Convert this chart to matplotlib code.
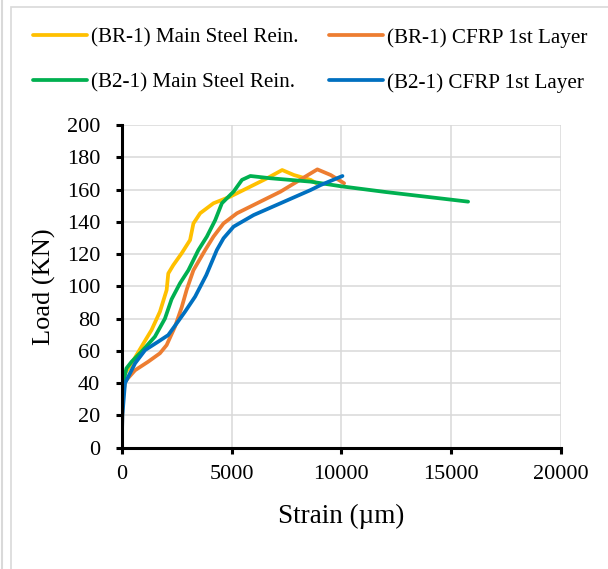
import matplotlib
matplotlib.use("Agg")
import matplotlib.pyplot as plt
from matplotlib.lines import Line2D
from matplotlib.patches import Rectangle

# Load-strain readings (strain in micro-strain, load in kN)
br1_steel_strain = [0, 20, 150, 450, 900, 1360, 1740, 2045, 2120, 2350, 2730, 3111, 3265,
                    3570, 4177, 4940, 5705, 6620, 7305, 7840, 8600, 8850]
br1_steel_load = [0, 35, 46, 52.3, 62.6, 73, 84.3, 97.7, 108, 113.2, 120.5, 128.7, 139,
                  145.3, 151.5, 155.6, 160.8, 167, 172.1, 169, 166, 164]

br1_cfrp_strain = [0, 40, 150, 608, 1205, 1738, 2045, 2425, 2730, 2960, 3265, 3800, 4177,
                   4635, 5247, 6163, 7230, 8600, 8907, 9516, 10125]
br1_cfrp_load = [0, 30, 41, 48, 53.3, 58.5, 63.6, 75, 87, 98, 110, 122.5, 130.8,
                 139, 145.3, 151.5, 158.7, 170, 172.5, 169, 163.9]

b21_steel_strain = [0, 30, 214, 450, 900, 1510, 1967, 2270, 2653, 3035, 3490, 3875, 4255,
                    4560, 5093, 5476, 5857, 6770, 8600, 10000, 12000, 15770]
b21_steel_load = [0, 38, 49.2, 53.3, 59.5, 68.8, 80, 92, 101.9, 110, 122.5, 130.8, 141,
                  151.5, 158.7, 166, 168.4, 167, 164.9, 162, 158.5, 152.5]

b21_cfrp_strain = [0, 30, 150, 608, 1065, 1660, 2117, 2500, 2882, 3340, 3850, 4330, 4635,
                   5093, 6007, 7230, 8600, 9059, 10050]
b21_cfrp_load = [0, 20, 40, 52.3, 60.5, 65.7, 69.8, 77, 84.3, 93.6, 107, 122.5, 129.8,
                 137, 144.2, 151.5, 159.7, 162.8, 168.4]

series_labels = ["(BR-1) Main Steel Rein.", "(BR-1) CFRP 1st Layer",
                 "(B2-1) Main Steel Rein.", "(B2-1) CFRP 1st Layer"]
series_colors = ["#FFC000", "#ED7D31", "#00B050", "#0070C0"]

x_ticks = [0, 5000, 10000, 15000, 20000]
y_ticks = list(range(0, 201, 20))

plt.rcParams["font.family"] = ["Liberation Serif", "DejaVu Serif"]

fig = plt.figure(figsize=(6.08, 5.69), dpi=100)
ax = fig.add_axes([0.2002, 0.2132, 0.7225, 0.5671])

data = [(br1_steel_strain, br1_steel_load), (br1_cfrp_strain, br1_cfrp_load),
        (b21_steel_strain, b21_steel_load), (b21_cfrp_strain, b21_cfrp_load)]
handles = []
for (xs, ys), lab, col in zip(data, series_labels, series_colors):
    h, = ax.plot(xs, ys, color=col, lw=2.7, label=lab, solid_joinstyle="round",
                 solid_capstyle="round")
    handles.append(h)

ax.set_xlim(0, 20000)
ax.set_ylim(0, 200)
ax.set_xticks(x_ticks)
ax.set_yticks(y_ticks)
ax.grid(True, color="#d9d9d9", lw=1.1)
ax.set_axisbelow(True)
for side in ["top", "right"]:
    ax.spines[side].set_visible(False)
for side in ["left", "bottom"]:
    ax.spines[side].set_linewidth(2.2)
ax.tick_params(axis="both", direction="out", length=4.5, width=2.2, labelsize=16)
ax.tick_params(axis="x", pad=8)
ax.tick_params(axis="y", pad=11)
ax.set_xlabel("Strain (µm)", fontsize=19.5, labelpad=14)
ax.set_ylabel("Load (KN)", fontsize=19, va="center")
ax.yaxis.set_label_coords(-0.175, 0.5)

order = [0, 2, 1, 3]
fig.legend([handles[i] for i in order], [series_labels[i] for i in order],
           loc="upper left", bbox_to_anchor=(0.054, 0.951), ncol=2, frameon=False,
           fontsize=15.2, handlelength=2.55, handletextpad=0.2, columnspacing=1.44,
           labelspacing=1.2, borderpad=0, borderaxespad=0)

# Page frame lines
fig.add_artist(Rectangle((11 / 608, -0.02), 1.0, 1 - 7 / 569 + 0.02,
                         transform=fig.transFigure, fill=False,
                         edgecolor="#d9d9d9", lw=1.2))
fig.add_artist(Line2D([2 / 608, 2 / 608], [0, 1], transform=fig.transFigure,
                      color="#d9d9d9", lw=1.5))

fig.savefig("out.png", dpi=100)
